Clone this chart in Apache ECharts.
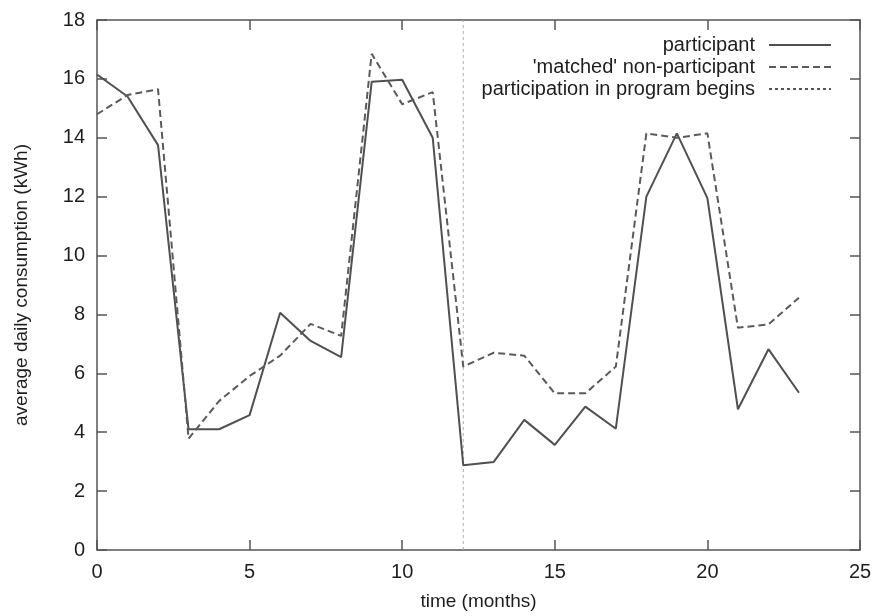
<!DOCTYPE html>
<html>
<head>
<meta charset="utf-8">
<script src="https://cdn.jsdelivr.net/npm/echarts@6/dist/echarts.min.js"></script>
<style>
  html, body { margin: 0; padding: 0; background: #fff; }
  #chart { width: 877px; height: 616px; }
</style>
</head>
<body>
<div id="chart"></div>
<script>
  // months 0..23
  var months = [0,1,2,3,4,5,6,7,8,9,10,11,12,13,14,15,16,17,18,19,20,21,22,23];
  var participant = [16.15,15.4,13.75,4.1,4.1,4.58,8.06,7.1,6.55,15.9,15.97,14.0,
                     2.88,2.99,4.42,3.57,4.87,4.12,12.0,14.15,11.95,4.78,6.82,5.34];
  var matched = [14.8,15.45,15.65,3.78,5.06,5.91,6.6,7.68,7.27,16.85,15.14,15.55,
                 6.23,6.7,6.6,5.32,5.32,6.23,14.15,14.0,14.15,7.55,7.66,8.57];
  var programStart = 12;
  var yRange = [0, 18];
  var xTicks = { min: 0, max: 25, step: 5 };
  var yTicks = { min: 0, max: 18, step: 2 };

  var font = '"Liberation Sans", Arial, sans-serif';
  var ink = '#1e1e1e';
  var axisGray = '#555';

  function pairs(xs, ys){
    var out = [];
    for (var i = 0; i < xs.length; i++) out.push([xs[i], ys[i]]);
    return out;
  }

  var myChart = echarts.init(document.getElementById('chart'));

  var baseX = {
    type: 'value', min: xTicks.min, max: xTicks.max, interval: xTicks.step,
    axisLine: { show: true, onZero: false, lineStyle: { color: axisGray, width: 1.5 } },
    axisTick: { show: true, inside: true, length: 10, lineStyle: { color: axisGray, width: 1.5 } },
    splitLine: { show: false }
  };
  var baseY = {
    type: 'value', min: yTicks.min, max: yTicks.max, interval: yTicks.step,
    axisLine: { show: true, onZero: false, lineStyle: { color: axisGray, width: 1.5 } },
    axisTick: { show: true, inside: true, length: 10, lineStyle: { color: axisGray, width: 1.5 } },
    splitLine: { show: false }
  };

  var option = {
    backgroundColor: '#fff',
    animation: false,
    grid: { left: 97, right: 17, top: 20, bottom: 65 },
    legend: {
      orient: 'vertical',
      align: 'right',
      right: 40,
      top: 30,
      itemWidth: 62,
      itemHeight: 12,
      itemGap: 2,
      itemStyle: { opacity: 0 },
      textStyle: { fontFamily: font, fontSize: 20, color: ink, lineHeight: 20, padding: [0, 9, 0, 0] },
      data: [
        { name: 'participant' },
        { name: "'matched' non-participant" },
        { name: 'participation in program begins', lineStyle: { color: '#555' } }
      ]
    },
    xAxis: [
      Object.assign({}, baseX, {
        position: 'bottom',
        name: 'time (months)', nameLocation: 'middle', nameGap: 42,
        nameTextStyle: { fontFamily: font, fontSize: 19, color: ink },
        axisLabel: { margin: 12, fontFamily: font, fontSize: 20, color: ink }
      }),
      Object.assign({}, baseX, { position: 'top', axisLabel: { show: false } })
    ],
    yAxis: [
      Object.assign({}, baseY, {
        position: 'left',
        name: 'average daily consumption (kWh)', nameLocation: 'middle', nameGap: 66,
        nameTextStyle: { fontFamily: font, fontSize: 19, color: ink },
        axisLabel: { margin: 12, fontFamily: font, fontSize: 20, color: ink }
      }),
      Object.assign({}, baseY, { position: 'right', axisLabel: { show: false } })
    ],
    series: [
      {
        name: 'participant', type: 'line', symbol: 'none',
        data: pairs(months, participant),
        lineStyle: { color: '#505050', width: 2 },
        itemStyle: { color: '#505050' }
      },
      {
        name: "'matched' non-participant", type: 'line', symbol: 'none',
        data: pairs(months, matched),
        lineStyle: { color: '#5a5a5a', width: 2, type: [7, 4] },
        itemStyle: { color: '#5a5a5a' }
      },
      {
        name: 'participation in program begins', type: 'line', symbol: 'none',
        data: [[programStart, yRange[0]], [programStart, yRange[1]]],
        lineStyle: { color: '#aaa', width: 1, type: [3, 3] },
        itemStyle: { color: '#aaa' },
        z: 1
      }
    ]
  };
  myChart.setOption(option);
</script>
</body>
</html>
